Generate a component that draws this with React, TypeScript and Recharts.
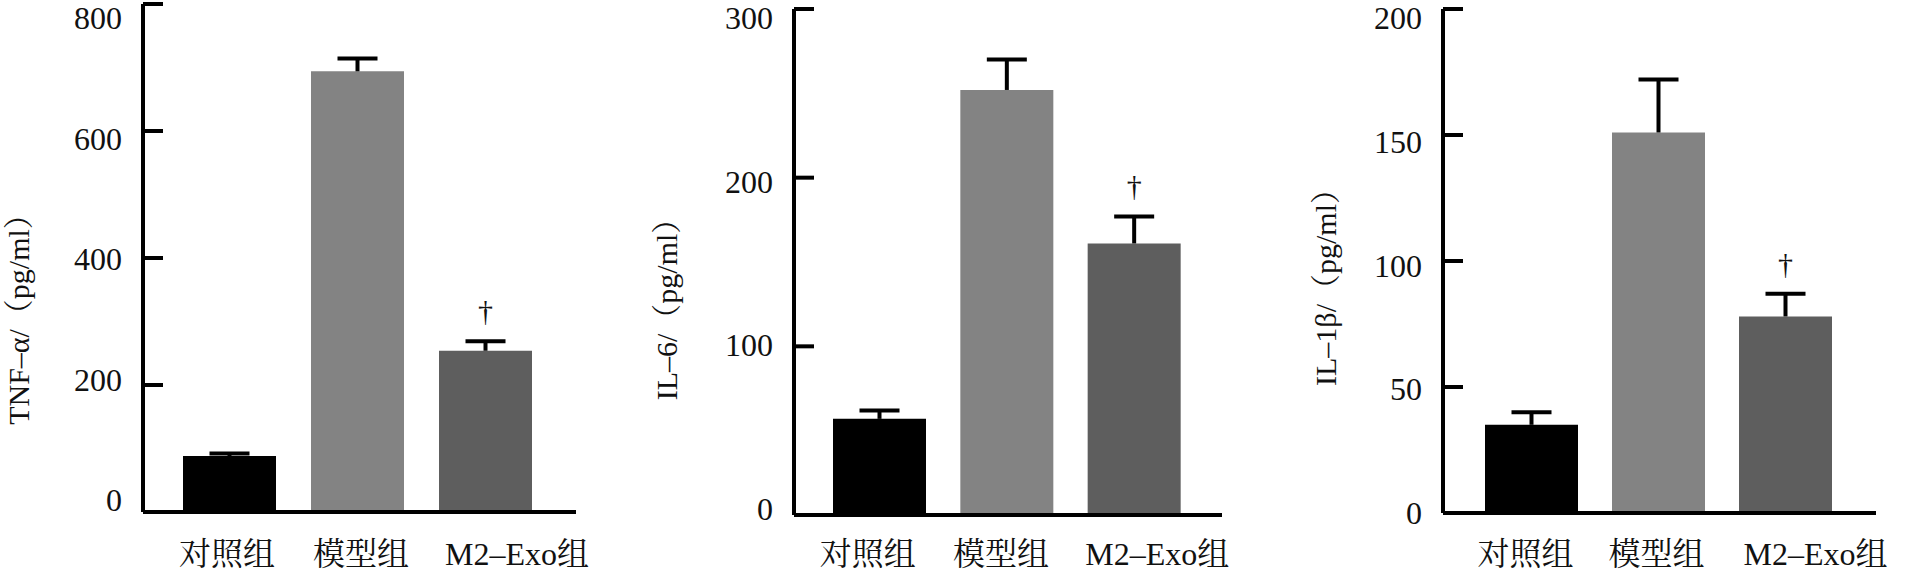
import React from "react";
import { BarChart, Bar, XAxis, YAxis, Cell } from "recharts";

const groups = ["对照组", "模型组", "M2–Exo组"];
const marks = ["", "", "†"];
const barColors = ["#000000", "#838383", "#5e5e5e"];

const tnfMean = [88, 694, 254];
const tnfSd = [4, 20, 15];
const tnfTicks = [0, 200, 400, 600, 800];

const il6Mean = [57, 252, 161];
const il6Sd = [5, 18, 16];
const il6Ticks = [0, 100, 200, 300];

const il1bMean = [35, 151, 78];
const il1bSd = [5, 21, 9];
const il1bTicks = [0, 50, 100, 150, 200];

const FONT = "'Liberation Serif', 'Noto Serif CJK SC', 'Noto Sans CJK SC', serif";
const INK = "#111";

// tick labels in the figure sit on a slightly tighter spacing than the ticks,
// so the label offset drifts from topOff (at the top tick) to botOff (at zero)
const YTick = (props: any) => {
  const { x, y, payload, top, bottom, topOff, botOff } = props;
  const t = (y - top) / (bottom - top);
  const off = topOff + (botOff - topOff) * t;
  return (
    <g>
      <line x1={x} x2={x + 20} y1={y} y2={y} stroke="#000" strokeWidth={4} />
      <text x={x - 21} y={y + off + 11} textAnchor="end" fontSize={32} fontFamily={FONT} fill={INK}>
        {payload.value}
      </text>
    </g>
  );
};

// category labels are not quite centred under their bars in the original
const XTick = (props: any) => {
  const { x, payload, index, shifts } = props;
  const dx = shifts ? shifts[index] || 0 : 0;
  return (
    <text x={x + dx} y={565} textAnchor="middle" fontSize={32} fontFamily={FONT} fill={INK}>
      {payload.value}
    </text>
  );
};

const YLabel = ({ text, cx, cy }: { text: string; cx: number; cy: number }) => (
  <text
    x={cx}
    y={cy}
    transform={`rotate(-90, ${cx}, ${cy})`}
    textAnchor="middle"
    dominantBaseline="central"
    fontSize={30}
    fontFamily={FONT}
    fill={INK}
  >
    {text}
  </text>
);

// error bar drawn on the stacked sd segment, plus the significance mark
const ErrShape = (props: any) => {
  const { x, y, width, height, payload } = props;
  const cx = x + width / 2;
  return (
    <g>
      <line x1={cx} x2={cx} y1={y + height} y2={y} stroke="#000" strokeWidth={4} />
      <line x1={cx - 20} x2={cx + 20} y1={y} y2={y} stroke="#000" strokeWidth={4} />
      {payload.mark ? (
        <text x={cx} y={y - 20} textAnchor="middle" fontSize={30} fontFamily={FONT} fill={INK}>
          {payload.mark}
        </text>
      ) : null}
    </g>
  );
};

const build = (mean: number[], sd: number[]) =>
  groups.map((name, i) => ({ name, mean: mean[i], sd: sd[i], mark: marks[i] }));

const panels = [
  {
    left: 0, width: 600, axisW: 143, top: 4, bottom: 512, right: 24, padL: 22, padR: 27,
    topOff: 14, botOff: -12, shifts: [-2, 4, 32],
    data: build(tnfMean, tnfSd), ticks: tnfTicks, label: "TNF–α/（pg/ml）", lx: 18, ly: 312,
  },
  {
    left: 650, width: 600, axisW: 144, top: 9, bottom: 515, right: 28, padL: 22, padR: 24,
    topOff: 9, botOff: -6, shifts: [-12, -6, 23],
    data: build(il6Mean, il6Sd), ticks: il6Ticks, label: "IL–6/（pg/ml）", lx: 16, ly: 302,
  },
  {
    left: 1300, width: 606, axisW: 143, top: 9, bottom: 513, right: 30, padL: 25, padR: 27,
    topOff: 9, botOff: 0, shifts: [-6, -2, 30],
    data: build(il1bMean, il1bSd), ticks: il1bTicks, label: "IL–1β/（pg/ml）", lx: 25, ly: 280,
  },
];

const Panel = ({ p }: { p: (typeof panels)[number] }) => (
  <BarChart
    width={p.width}
    height={573}
    data={p.data}
    margin={{ top: p.top, right: p.right, bottom: 0, left: 0 }}
  >
    <XAxis
      dataKey="name"
      interval={0}
      height={573 - p.bottom}
      padding={{ left: p.padL, right: p.padR }}
      axisLine={{ stroke: "#000", strokeWidth: 4 }}
      tickLine={false}
      tickSize={0}
      tickMargin={0}
      tick={<XTick shifts={p.shifts} />}
    />
    <YAxis
      type="number"
      domain={[0, p.ticks[p.ticks.length - 1]]}
      ticks={p.ticks}
      interval={0}
      width={p.axisW}
      axisLine={{ stroke: "#000", strokeWidth: 4 }}
      tickLine={false}
      tickSize={0}
      tickMargin={0}
      tick={<YTick top={p.top} bottom={p.bottom} topOff={p.topOff} botOff={p.botOff} />}
      label={<YLabel text={p.label} cx={p.lx} cy={p.ly} />}
    />
    <Bar dataKey="mean" stackId="s" barSize={93} isAnimationActive={false}>
      {p.data.map((d, i) => (
        <Cell key={d.name} fill={barColors[i]} />
      ))}
    </Bar>
    <Bar dataKey="sd" stackId="s" barSize={93} isAnimationActive={false} shape={(props: any) => <ErrShape {...props} />} />
  </BarChart>
);

export default function App() {
  return (
    <div style={{ position: "absolute", left: 0, top: 0, width: 1906, height: 573, background: "#fff" }}>
      {panels.map((p) => (
        <div key={p.label} style={{ position: "absolute", left: p.left, top: 0 }}>
          <Panel p={p} />
        </div>
      ))}
    </div>
  );
}
